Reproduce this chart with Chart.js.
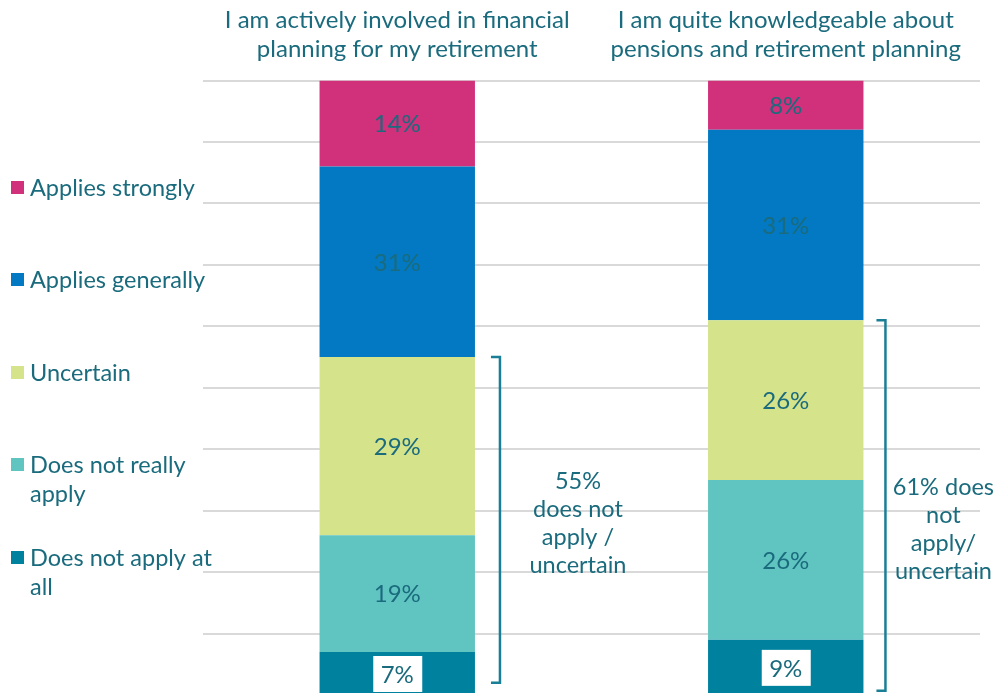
<!DOCTYPE html>
<html>
<head>
<meta charset="utf-8">
<script src="https://cdn.jsdelivr.net/npm/chart.js@4"></script>
<style>
html,body{margin:0;padding:0;background:#fff;overflow:hidden;}
#wrap{position:relative;width:996px;height:695px;}
</style>
</head>
<body>
<div id="wrap"><canvas id="c"></canvas></div>
<script>
const categories = [
  ["I am actively involved in financial", "planning for my retirement"],
  ["I am quite knowledgeable about", "pensions and retirement planning"]
];
const seriesNames = ["Does not apply at all", "Does not really apply", "Uncertain", "Applies generally", "Applies strongly"];
const doesNotApplyAtAll = [7, 9];
const doesNotReallyApply = [19, 26];
const uncertain = [29, 26];
const appliesGenerally = [31, 31];
const appliesStrongly = [14, 8];
const legendLines = [
  ["Applies strongly"],
  ["Applies generally"],
  ["Uncertain"],
  ["Does not really", "apply"],
  ["Does not apply at", "all"]
];
const bracketTop = [55, 61];
const bracketBottom = [2, 0.7];
const bracketText = [
  ["55%", "does not", "apply /", "uncertain"],
  ["61% does", "not", "apply/", "uncertain"]
];
const yTicks = [0, 10, 20, 30, 40, 50, 60, 70, 80, 90, 100];

const TEXT = '#1a6b7d';
const FONT = 'Lato, "Open Sans", sans-serif';
const colors = ['#00829f', '#60c5c1', '#d5e38a', '#0279c2', '#d1307a'];
const seriesData = [doesNotApplyAtAll, doesNotReallyApply, uncertain, appliesGenerally, appliesStrongly];

const labelPlugin = {
  id: 'labels',
  afterDatasetsDraw(chart) {
    const ctx = chart.ctx;
    ctx.save();
    ctx.font = '24px ' + FONT;
    ctx.textAlign = 'center';
    ctx.textBaseline = 'middle';
    chart.data.datasets.forEach((ds, di) => {
      const meta = chart.getDatasetMeta(di);
      meta.data.forEach((el, i) => {
        const v = ds.data[i];
        const cy = (el.y + el.base) / 2;
        const txt = v + '%';
        if (di === 0) {
          ctx.fillStyle = '#ffffff';
          const cyb = cy + 1;
          ctx.fillRect(el.x - 24, cyb - 18, 49, 36);
          ctx.fillStyle = TEXT;
          ctx.fillText(txt, el.x, cyb + 1);
        } else {
          ctx.fillStyle = TEXT;
          ctx.fillText(txt, el.x, cy + 1);
        }
      });
    });
    ctx.restore();
  }
};

const bracketPlugin = {
  id: 'brackets',
  afterDraw(chart) {
    const ctx = chart.ctx;
    const y = chart.scales.y;
    const meta = chart.getDatasetMeta(0);
    const offs = [25, 22];
    const textOffs = [78, 58];
    const textMid = [28, 27];
    ctx.save();
    ctx.strokeStyle = '#1a7f96';
    ctx.lineWidth = 2.5;
    ctx.lineCap = 'butt';
    meta.data.forEach((el, i) => {
      const right = el.x + el.width / 2;
      const bx = right + offs[i];
      const t = y.getPixelForValue(bracketTop[i]);
      const b = y.getPixelForValue(bracketBottom[i]);
      ctx.beginPath();
      ctx.moveTo(bx - 9, t);
      ctx.lineTo(bx, t);
      ctx.lineTo(bx, b);
      ctx.lineTo(bx - 9, b);
      ctx.stroke();
      ctx.fillStyle = TEXT;
      ctx.font = '23.5px ' + FONT;
      ctx.textAlign = 'center';
      ctx.textBaseline = 'middle';
      const lines = bracketText[i];
      const lh = 28;
      const mid = y.getPixelForValue(textMid[i]);
      lines.forEach((ln, k) => {
        ctx.fillText(ln, bx + textOffs[i], mid + (k - (lines.length - 1) / 2) * lh);
      });
    });
    ctx.restore();
  }
};

const legendPlugin = {
  id: 'sideLegend',
  afterDraw(chart) {
    const ctx = chart.ctx;
    const ys = [188, 280, 373, 465, 558];
    const order = [4, 3, 2, 1, 0];
    ctx.save();
    ctx.font = '23.5px ' + FONT;
    ctx.textBaseline = 'middle';
    ctx.textAlign = 'left';
    order.forEach((di, k) => {
      const ds = chart.data.datasets[di];
      ctx.fillStyle = ds.backgroundColor;
      ctx.fillRect(11, ys[k] - 7, 13, 13);
      ctx.fillStyle = TEXT;
      legendLines[k].forEach((ln, j) => {
        ctx.fillText(ln, 30, ys[k] + j * 29);
      });
    });
    ctx.restore();
  }
};

new Chart(document.getElementById('c'), {
  type: 'bar',
  data: {
    labels: categories,
    datasets: seriesNames.map((n, i) => ({
      label: n,
      data: seriesData[i],
      backgroundColor: colors[i],
      borderWidth: 0,
      barPercentage: 0.4,
      categoryPercentage: 1.0
    }))
  },
  options: {
    responsive: true,
    maintainAspectRatio: false,
    animation: false,
    layout: { padding: { left: 203, right: 16, top: -11, bottom: 0 } },
    plugins: { legend: { display: false }, tooltip: { enabled: false } },
    scales: {
      x: {
        position: 'top',
        stacked: true,
        grid: { display: false, drawTicks: false },
        border: { display: false },
        ticks: {
          color: TEXT,
          font: { family: FONT, size: 24, lineHeight: 1.2 },
          padding: 17,
          maxRotation: 0,
          autoSkip: false
        }
      },
      y: {
        stacked: true,
        min: 0,
        max: 100,
        afterBuildTicks(axis) { axis.ticks = yTicks.map(v => ({ value: v })); },
        grid: { color: '#d9d9d9', lineWidth: 2, drawTicks: false },
        border: { display: false },
        ticks: { display: false }
      }
    }
  },
  plugins: [labelPlugin, bracketPlugin, legendPlugin]
});
</script>
</body>
</html>
